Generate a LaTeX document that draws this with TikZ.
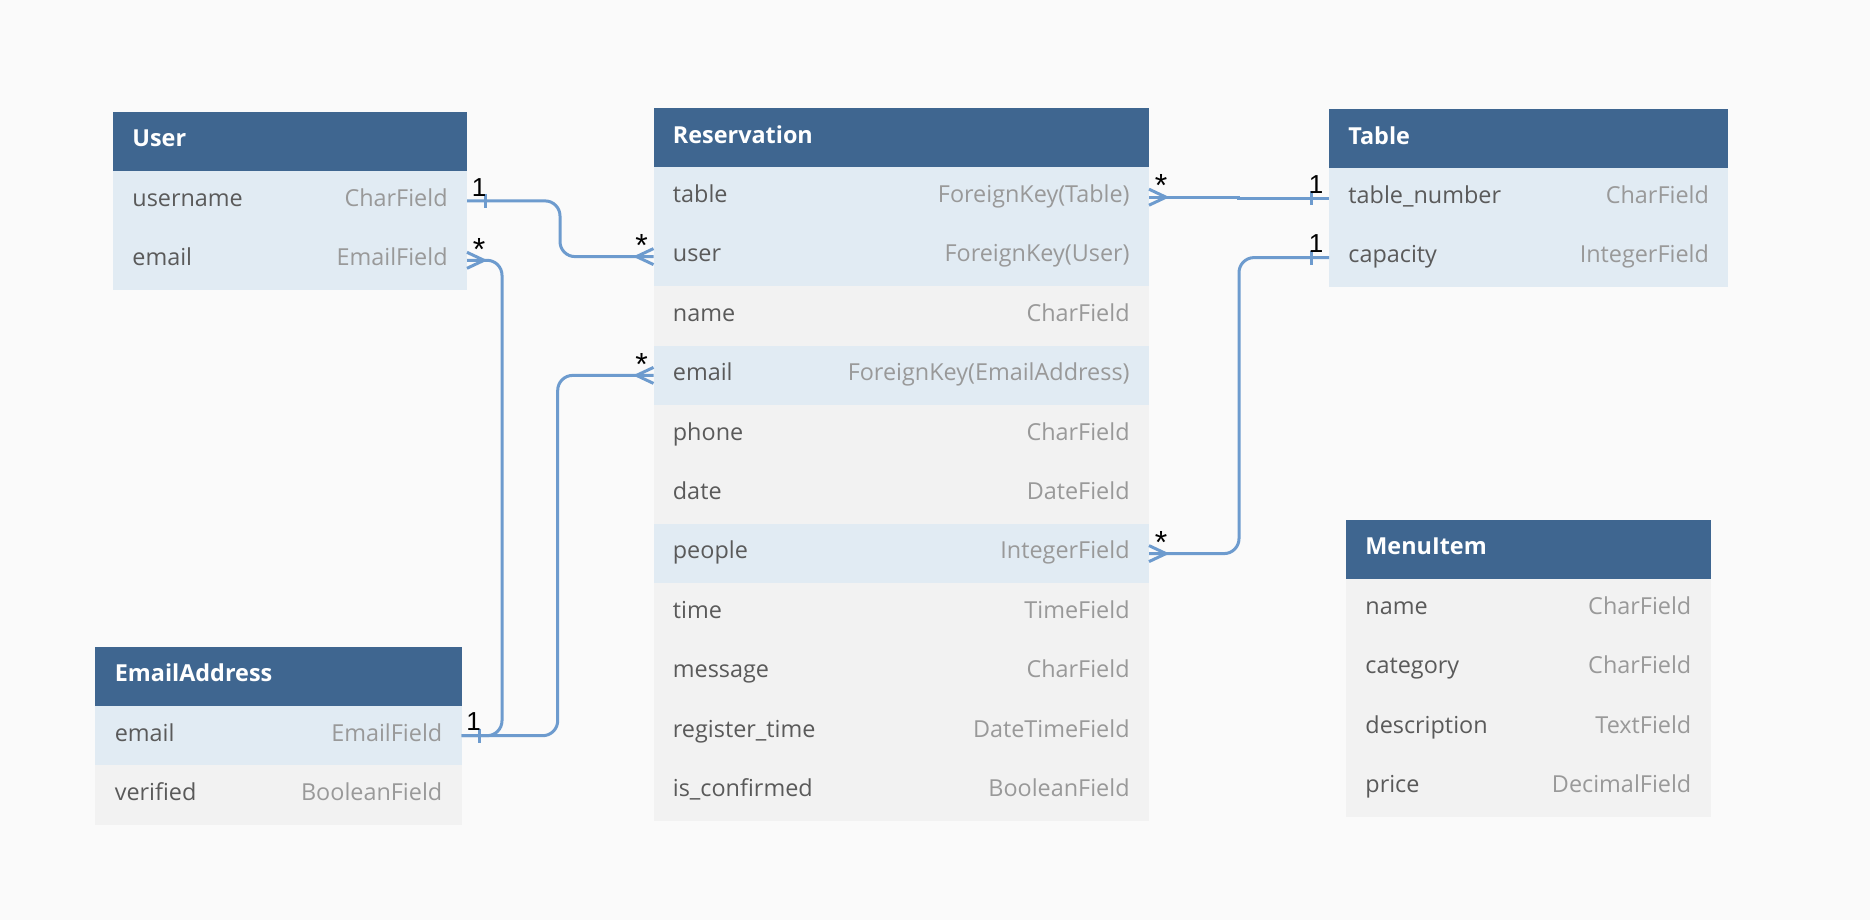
\documentclass[tikz,border=0pt]{standalone}
\usepackage{fontspec}
\setmainfont{Open Sans}
\newfontfamily\lblfont{Liberation Sans}
\usetikzlibrary{calc}
\definecolor{bgc}{HTML}{FAFAFA}
\definecolor{hdrblue}{HTML}{3F6690}
\definecolor{keyrow}{HTML}{E1EBF3}
\definecolor{plainrow}{HTML}{F2F2F2}
\definecolor{nametxt}{HTML}{5A5A5A}
\definecolor{typetxt}{HTML}{999999}
\definecolor{linkblue}{HTML}{6D9BCE}
\tikzset{
  cell/.style={anchor=north west, inner sep=0pt, outer sep=0pt, minimum height=29.7pt},
  hdrcell/.style={cell, fill=hdrblue, minimum height=29.6pt},
  fname/.style={anchor=mid west, inner sep=0pt, text=nametxt, font=\fontsize{11.7}{13}\selectfont},
  ftype/.style={anchor=mid east, inner sep=0pt, text=typetxt, font=\fontsize{11.7}{13}\selectfont},
  htitle/.style={anchor=mid west, inner sep=0pt, text=white, font=\fontsize{11.7}{13}\selectfont\bfseries},
  conn/.style={draw=linkblue, line width=1.5pt},
  card/.style={anchor=north, inner sep=0pt, text=black, font=\lblfont\fontsize{13}{14}\selectfont},
  cardmany/.style={anchor=north, inner sep=0pt, text=black, font=\lblfont\fontsize{16}{17}\selectfont},
}
\newcommand\erhead[5]{%
  \node[hdrcell, minimum width=#4*0.5pt] (#1) at (#2,#3) {};
  \node[htitle] (#1-title) at ($(#1.west)+(19,0)$) {#5};
}
\newcommand\errow[7]{%
  \node[cell, fill=#5, minimum width=#4*0.5pt] (#1) at (#2,#3) {};
  \node[fname] (#1-n) at ($(#1.west)+(19,0)$) {#6};
  \node[ftype] (#1-t) at ($(#1.east)+(-19,0)$) {#7};
}
\newcommand\crowW[1]{\draw[conn] ($(#1.west)+(0,-8)$) -- ($(#1.west)+(-17,0)$) -- ($(#1.west)+(0,8)$);}
\newcommand\crowE[1]{\draw[conn] ($(#1.east)+(0,-8)$) -- ($(#1.east)+(17,0)$) -- ($(#1.east)+(0,8)$);}
\newcommand\tickE[1]{\draw[conn] ($(#1.east)+(18,-7)$) -- ++(0,14);}
\newcommand\tickW[1]{\draw[conn] ($(#1.west)+(-18,-7)$) -- ++(0,14);}
\begin{document}
\begin{tikzpicture}[x=0.5pt,y=-0.5pt]
\fill[bgc] (0,0) rectangle (1870,920);
\useasboundingbox (0,0) rectangle (1870,920);

% User
\erhead{u}{113}{112}{354}{User}
\errow{u-username}{113}{171.2}{354}{keyrow}{username}{CharField}
\errow{u-email}{113}{230.6}{354}{keyrow}{email}{EmailField}

% Reservation
\erhead{r}{653.5}{108.3}{495.5}{Reservation}
\errow{r-table}{653.5}{167.5}{495.5}{keyrow}{table}{ForeignKey(Table)}
\errow{r-user}{653.5}{226.9}{495.5}{keyrow}{user}{ForeignKey(User)}
\errow{r-name}{653.5}{286.3}{495.5}{plainrow}{name}{CharField}
\errow{r-email}{653.5}{345.7}{495.5}{keyrow}{email}{ForeignKey(EmailAddress)}
\errow{r-phone}{653.5}{405.1}{495.5}{plainrow}{phone}{CharField}
\errow{r-date}{653.5}{464.5}{495.5}{plainrow}{date}{DateField}
\errow{r-people}{653.5}{523.9}{495.5}{keyrow}{people}{IntegerField}
\errow{r-time}{653.5}{583.3}{495.5}{plainrow}{time}{TimeField}
\errow{r-message}{653.5}{642.7}{495.5}{plainrow}{message}{CharField}
\errow{r-register}{653.5}{702.1}{495.5}{plainrow}{register\_time}{DateTimeField}
\errow{r-confirmed}{653.5}{761.5}{495.5}{plainrow}{is\_confirmed}{BooleanField}

% Table
\erhead{t}{1329}{109.3}{399.3}{Table}
\errow{t-number}{1329}{168.5}{399.3}{keyrow}{table\_number}{CharField}
\errow{t-capacity}{1329}{227.9}{399.3}{keyrow}{capacity}{IntegerField}

% EmailAddress
\erhead{e}{95.4}{646.7}{366.3}{EmailAddress}
\errow{e-email}{95.4}{706}{366.3}{keyrow}{email}{EmailField}
\errow{e-verified}{95.4}{765.4}{366.3}{plainrow}{verified}{BooleanField}

% MenuItem
\erhead{m}{1346}{520}{364.7}{MenuItem}
\errow{m-name}{1346}{579.2}{364.7}{plainrow}{name}{CharField}
\errow{m-category}{1346}{638.6}{364.7}{plainrow}{category}{CharField}
\errow{m-description}{1346}{698}{364.7}{plainrow}{description}{TextField}
\errow{m-price}{1346}{757.4}{364.7}{plainrow}{price}{DecimalField}

% Connectors
\draw[conn, rounded corners=7.5pt] (u-username.east) -- ++(93,0) |- (r-user.west);
\tickE{u-username}
\crowW{r-user}
\node[card] (c1a) at ($(u-username.east)+(12,-23)$) {1};
\node[cardmany] (c1b) at ($(r-user.west)+(-12,-22.7)$) {*};

\draw[conn, rounded corners=7.5pt] (u-email.east) -- ++(35,0) |- (e-email.east);
\crowE{u-email}
\node[cardmany] (c2a) at ($(u-email.east)+(12,-22.7)$) {*};

\draw[conn, rounded corners=7.5pt] (e-email.east) -- ++(96,0) |- (r-email.west);
\tickE{e-email}
\crowW{r-email}
\node[card] (c3a) at ($(e-email.east)+(12,-23)$) {1};
\node[cardmany] (c3b) at ($(r-email.west)+(-12,-22.7)$) {*};

\draw[conn] (r-table.east) -- ++(89,0) |- (t-number.west);
\crowE{r-table}
\tickW{t-number}
\node[cardmany] (c4a) at ($(r-table.east)+(12,-22.7)$) {*};
\node[card] (c4b) at ($(t-number.west)+(-13,-23)$) {1};

\draw[conn, rounded corners=7.5pt] (t-capacity.west) -- ++(-90,0) |- (r-people.east);
\tickW{t-capacity}
\crowE{r-people}
\node[card] (c5a) at ($(t-capacity.west)+(-13,-23)$) {1};
\node[cardmany] (c5b) at ($(r-people.east)+(12,-22.7)$) {*};
\end{tikzpicture}
\end{document}
